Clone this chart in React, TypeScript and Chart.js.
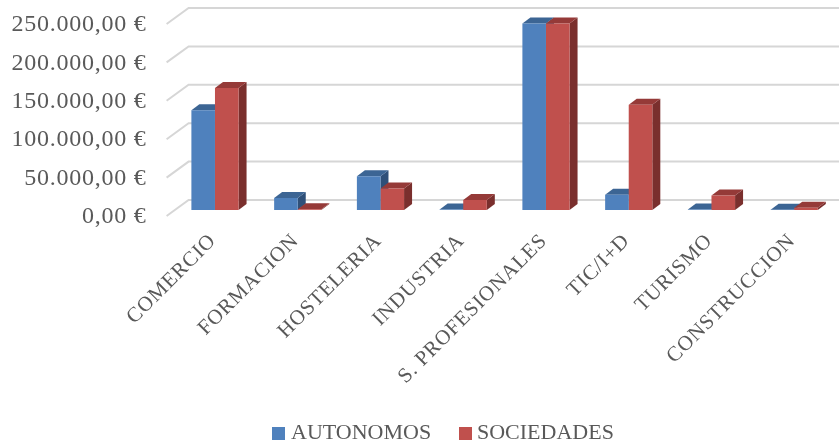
import React, { useEffect, useRef } from "react";
import { Chart, registerables } from "chart.js";

Chart.register(...registerables);

const categories = ["COMERCIO", "FORMACION", "HOSTELERIA", "INDUSTRIA", "S. PROFESIONALES", "TIC/I+D", "TURISMO", "CONSTRUCCION"];
const autonomos = [130000, 15500, 44000, 500, 243000, 20000, 500, 300];
const sociedades = [159000, 1000, 28000, 13000, 243000, 137000, 19000, 3000];

const BLUE = "#4f81bd";
const RED = "#c0504d";
const TEXT = "#595959";
const FONT = "'Liberation Serif', serif";

const DEPTH_X = 8;
const DEPTH_Y = 6;
const faces = [
  { top: "#3c6594", side: "#2f5079" },
  { top: "#953a38", side: "#7a2f2d" },
];

const formatEuro = (v: number) => {
  const s = String(v);
  const grouped = s.replace(/\B(?=(\d{3})+(?!\d))/g, ".");
  return `${grouped},00 €`;
};

const poly = (ctx: CanvasRenderingContext2D, pts: number[][], fill: string) => {
  ctx.beginPath();
  pts.forEach(([x, y], i) => (i ? ctx.lineTo(x, y) : ctx.moveTo(x, y)));
  ctx.closePath();
  ctx.fillStyle = fill;
  ctx.fill();
};

const threeD = {
  id: "threeD",
  beforeDraw(chart: any) {
    chart.ctx.letterSpacing = "0.75px";
  },
  beforeDatasetsDraw(chart: any) {
    const { ctx, scales } = chart;
    const y = scales.y;
    const left = scales.x.left;
    ctx.save();
    ctx.strokeStyle = "#d6d6d6";
    ctx.lineWidth = 2;
    y.ticks.forEach((t: any) => {
      const py = y.getPixelForValue(t.value);
      ctx.beginPath();
      ctx.moveTo(left - 7, py + 6);
      ctx.lineTo(left + 15, py - 10);
      ctx.lineTo(chart.width, py - 10);
      ctx.stroke();
    });
    const base = y.getPixelForValue(0);
    categories.forEach((_, i) => {
      chart.data.datasets.forEach((_d: any, di: number) => {
        const bar = chart.getDatasetMeta(di).data[i];
        const hw = bar.width / 2;
        const x0 = bar.x - hw;
        const x1 = bar.x + hw;
        const top = bar.y;
        poly(ctx, [[x1, top], [x1 + DEPTH_X, top - DEPTH_Y], [x1 + DEPTH_X, base - DEPTH_Y], [x1, base]], faces[di].side);
        poly(ctx, [[x0, top], [x1, top], [x1 + DEPTH_X, top - DEPTH_Y], [x0 + DEPTH_X, top - DEPTH_Y]], faces[di].top);
      });
    });
    ctx.restore();
  },
  afterDraw(chart: any) {
    const { ctx } = chart;
    const items = [
      { box: 272, text: 291 },
      { box: 459, text: 477 },
    ];
    ctx.save();
    ctx.letterSpacing = "0px";
    ctx.font = `22px ${FONT}`;
    ctx.textBaseline = "middle";
    ctx.textAlign = "left";
    chart.data.datasets.forEach((d: any, i: number) => {
      ctx.fillStyle = d.backgroundColor;
      ctx.fillRect(items[i].box, 427, 13, 13);
      ctx.fillStyle = TEXT;
      ctx.fillText(d.label, items[i].text, 433.5);
    });
    ctx.restore();
  },
};

export default function App() {
  const ref = useRef<HTMLCanvasElement>(null);
  useEffect(() => {
    const chart = new Chart(ref.current!, {
      type: "bar",
      data: {
        labels: categories,
        datasets: [
          { label: "AUTONOMOS", data: autonomos, backgroundColor: BLUE, categoryPercentage: 0.57, barPercentage: 1 },
          { label: "SOCIEDADES", data: sociedades, backgroundColor: RED, categoryPercentage: 0.57, barPercentage: 1 },
        ],
      },
      plugins: [threeD],
      options: {
        animation: false,
        responsive: false,
        layout: { padding: { top: 18, right: 3.4, left: 0, bottom: 0 } },
        plugins: { legend: { display: false }, tooltip: { enabled: false } },
        scales: {
          x: {
            afterFit: (s: any) => { s.height = 237; s.paddingLeft = 0; s.paddingRight = 0; },
            grid: { display: false },
            border: { display: false },
            ticks: {
              autoSkip: false,
              minRotation: 45,
              maxRotation: 45,
              padding: 11,
              labelOffset: -2,
              color: TEXT,
              font: { family: FONT, size: 21 },
            },
          },
          y: {
            min: 0,
            max: 250000,
            afterFit: (s: any) => { s.width = 173.6; s.paddingTop = 0; s.paddingBottom = 0; },
            grid: { display: false, drawTicks: false },
            border: { display: false },
            ticks: {
              stepSize: 50000,
              padding: 27,
              labelOffset: 7,
              color: TEXT,
              font: { family: FONT, size: 24 },
              callback: (v: any) => formatEuro(Number(v)),
            },
          },
        },
      },
    } as any);
    return () => chart.destroy();
  }, []);
  return (
    <div style={{ position: "absolute", left: 0, top: 0, width: 839, height: 447 }}>
      <canvas ref={ref} width={839} height={447} style={{ display: "block" }} />
    </div>
  );
}
